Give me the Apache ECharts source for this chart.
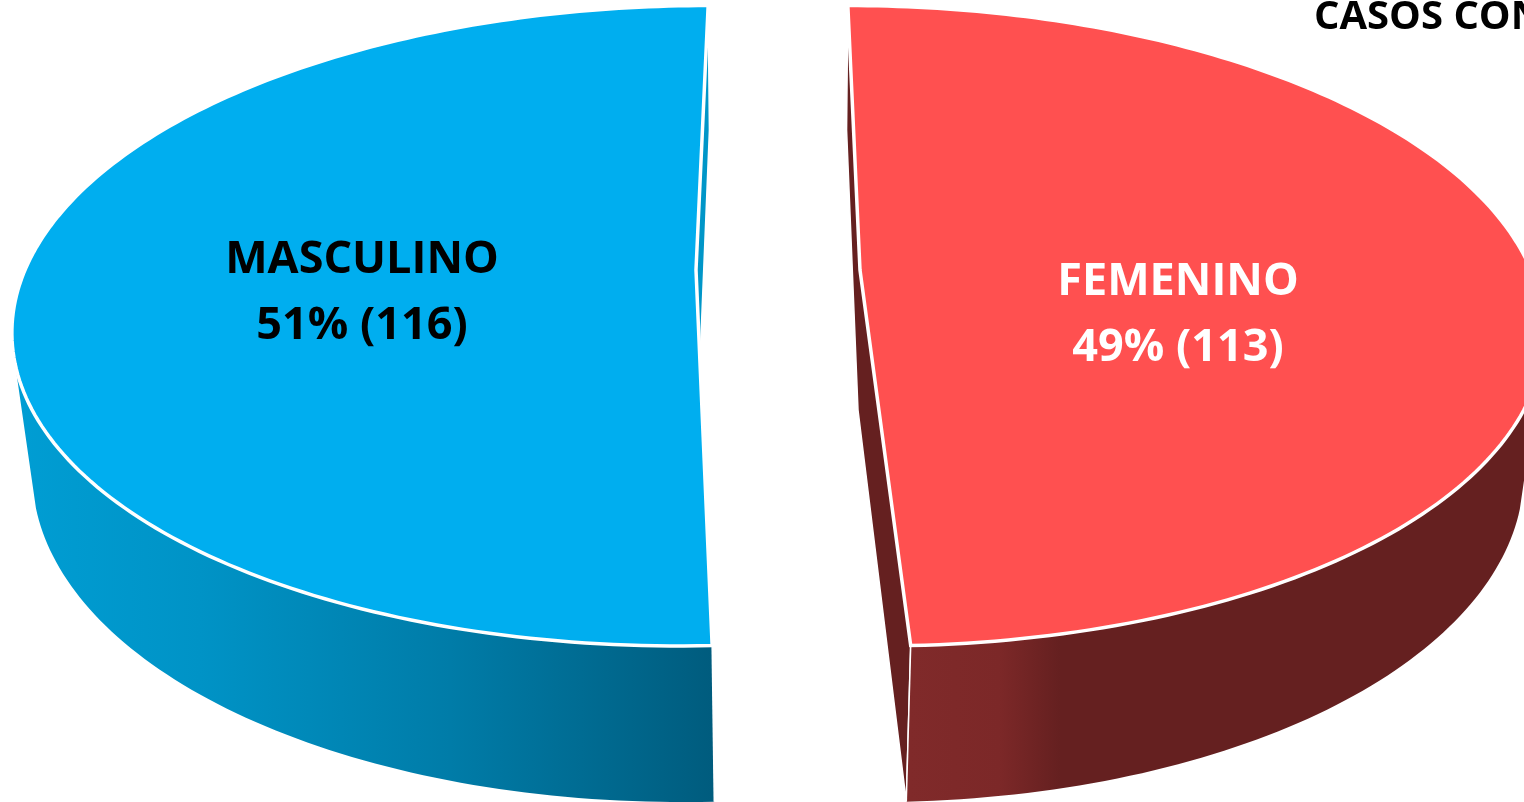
<!DOCTYPE html>
<html>
<head>
<meta charset="utf-8">
<style>html,body{margin:0;padding:0;background:#fff;overflow:hidden}#c{width:1524px;height:802px}</style>
<script src="https://cdn.jsdelivr.net/npm/echarts@6/dist/echarts.min.js"></script>
</head>
<body>
<div id="c"></div>
<script>
// Data (clockwise from the top of the pie)
const categories = ['FEMENINO', 'MASCULINO'];
const casos = [113, 116];
const tituloVisible = 'CASOS CON';

// Colours per slice
const topColors = ['#FF5050', '#00AEEF'];
const faceColors = ['#652020', '#0096C8'];
const labelColors = ['#FFFFFF', '#000000'];
const wallStops = [
  [[910, '#802A2A'], [1000, '#7C2828'], [1060, '#652020'], [1524, '#652020']],
  [[20, '#009DD3'], [200, '#0093C6'], [450, '#007CA8'], [712, '#005C7E']]
];
// Slice explode direction, label anchors
const explodeSign = [1, -1];
const labelAnchor = [[1178, 315], [362, 293]];

// 3D projection of the pie: a plane for the top and one for the bottom
const VX = 778;
const TOP = {cy: 270, a: 671, b: 310.5, k: 0.1741, e: 82};
const BOT = {cy: 410, a: 654, b: 326.7, k: 0.1667, e: 80};
// The wall is seen edge-on where the cosine of the angle reaches this value
const EDGE_ON = -0.28;

function project(plane, sign, deg, r) {
  const t = deg * Math.PI / 180;
  const u = r * Math.sin(t), v = r * Math.cos(t);
  const d = 1 + plane.k * v;
  return [VX + (sign * plane.e + plane.a * u) / d, plane.cy - plane.b * v / d];
}
function angles(from, to) {
  const out = [];
  const n = Math.max(2, Math.ceil(Math.abs(to - from)));
  for (let i = 0; i <= n; i++) out.push(from + (to - from) * i / n);
  return out;
}

const total = casos.reduce((s, x) => s + x, 0);

function renderSlice(params, api) {
  const i = params.dataIndex;
  const val = api.value(1);
  let before = 0;
  for (let j = 0; j < i; j++) before += casos[j];
  const from = before / total * 360, to = (before + val) / total * 360;
  const s = explodeSign[i];

  const degs = angles(from, to);
  const topRim = degs.map(d => project(TOP, s, d, 1));
  const botRim = degs.map(d => project(BOT, s, d, 1));
  const last = degs.length - 1;
  const apexT = project(TOP, s, 0, 0), apexB = project(BOT, s, 0, 0);

  // visible part of the outer wall
  const front = degs.filter(d => Math.cos(d * Math.PI / 180) <= EDGE_ON);
  const wallPts = front.map(d => project(TOP, s, d, 1))
    .concat(front.slice().reverse().map(d => project(BOT, s, d, 1)));

  // the cut end of the slice that faces the viewer
  const nearDeg = Math.cos(from * Math.PI / 180) < Math.cos(to * Math.PI / 180) ? from : to;
  const nearT = project(TOP, s, nearDeg, 1), nearB = project(BOT, s, nearDeg, 1);

  const xs = wallStops[i].map(d => d[0]);
  const x0 = xs[0], x1 = xs[xs.length - 1];
  const fill = new echarts.graphic.LinearGradient(x0, 0, x1, 0,
    wallStops[i].map(d => ({offset: (d[0] - x0) / (x1 - x0), color: d[1]})), true);

  return {type: 'group', children: [
    // cut faces behind the outer wall
    {type: 'polygon',
      shape: {points: [topRim[0], apexT, topRim[last], botRim[last], apexB, botRim[0]]},
      style: {fill: faceColors[i], stroke: '#FFFFFF', lineWidth: 1.5, lineJoin: 'round'}},
    {type: 'polygon', shape: {points: wallPts}, style: {fill: fill}},
    // white seam at the near cut end of the wall
    {type: 'line', shape: {x1: nearT[0], y1: nearT[1], x2: nearB[0], y2: nearB[1]},
      style: {stroke: '#FFFFFF', lineWidth: 1.5}},
    // top surface
    {type: 'polygon', shape: {points: [apexT].concat(topRim)},
      style: {fill: topColors[i], stroke: '#FFFFFF', lineWidth: 3.5, lineJoin: 'miter'}},
    {type: 'text', x: labelAnchor[i][0], y: labelAnchor[i][1],
      style: {
        text: categories[i] + '\n' + Math.round(val / total * 100) + '% (' + val + ')',
        fill: labelColors[i], font: 'bold 45px "Open Sans"', lineHeight: 66,
        align: 'center', verticalAlign: 'middle'
      }}
  ]};
}

const chart = echarts.init(document.getElementById('c'), null, {renderer: 'canvas'});
chart.setOption({
  animation: false,
  backgroundColor: '#FFFFFF',
  title: {
    text: tituloVisible, left: 1309, top: -7,
    textStyle: {fontFamily: 'Open Sans', fontWeight: 'bold', fontSize: 40, color: '#000000'}
  },
  series: [{
    type: 'custom',
    coordinateSystem: 'none',
    renderItem: renderSlice,
    data: categories.map((c, i) => ({name: c, value: [i, casos[i]]}))
  }]
});
</script>
</body>
</html>
